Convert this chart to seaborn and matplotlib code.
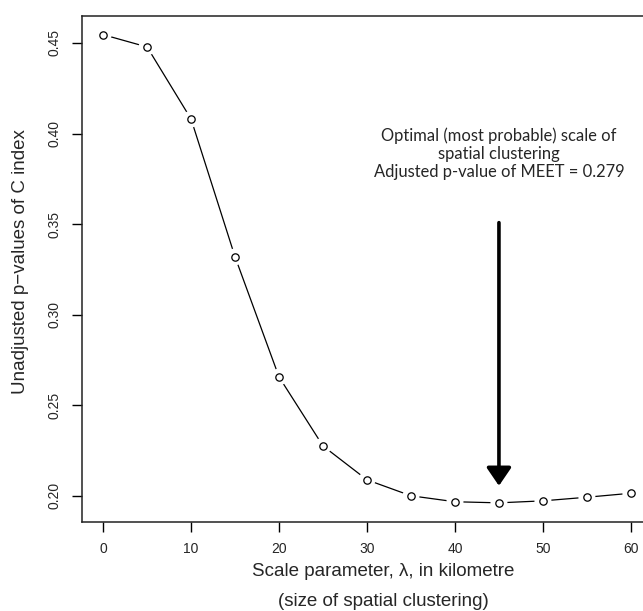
import matplotlib
matplotlib.use("Agg")
import matplotlib.pyplot as plt
import seaborn as sns
import pandas as pd

scale_km = [0, 5, 10, 15, 20, 25, 30, 35, 40, 45, 50, 55, 60]
p_values = [0.4546, 0.4478, 0.408, 0.3319, 0.2656, 0.2275, 0.2088, 0.2000,
            0.1967, 0.1961, 0.1972, 0.1992, 0.2014]
x_ticks = [0, 10, 20, 30, 40, 50, 60]
y_ticks = [0.20, 0.25, 0.30, 0.35, 0.40, 0.45]
optimal_scale = 45
annotation = "Optimal (most probable) scale of\nspatial clustering\nAdjusted p-value of MEET = 0.279"

df = pd.DataFrame({"scale": scale_km, "p": p_values})

sns.set_style("white")
plt.rcParams["font.family"] = ["Liberation Sans", "DejaVu Sans"]

fig = plt.figure(figsize=(6.43, 6.11), dpi=100)
ax = fig.add_axes([82 / 643, 1 - 521.5 / 611, 570 / 643, 505.5 / 611])

sns.lineplot(data=df, x="scale", y="p", color="black", linewidth=0.9, ax=ax, zorder=2)
ax.scatter(df["scale"], df["p"], s=150, color="white", edgecolors="none", zorder=3)
sns.scatterplot(data=df, x="scale", y="p", ax=ax, s=28, facecolor="white",
                edgecolor="black", linewidth=0.9, zorder=4)

ax.set_xlim(-2.4, 62.4)
ax.set_ylim(0.1858, 0.4649)
ax.set_xticks(x_ticks)
ax.set_xticklabels([str(v) for v in x_ticks], fontsize=10)
ax.set_yticks(y_ticks)
ax.set_yticklabels([f"{v:.2f}" for v in y_ticks], fontsize=10, rotation=90, va="center")
ax.tick_params(axis="both", direction="out", length=7, width=1, color="black",
               left=True, bottom=True)
ax.tick_params(axis="x", pad=8)
ax.tick_params(axis="y", pad=8)
for s in ax.spines.values():
    s.set_visible(True)
    s.set_color("#222222")
    s.set_linewidth(1.1)

ax.set_xlabel("")
ax.set_ylabel("")
fig.text(383 / 643, 1 - 572 / 611, "Scale parameter, λ, in kilometre",
         ha="center", va="center", fontsize=13.5)
fig.text(383 / 643, 1 - 602 / 611, "(size of spatial clustering)",
         ha="center", va="center", fontsize=13.5)
fig.text(21 / 643, 1 - 262 / 611, "Unadjusted p−values of C index",
         ha="center", va="center", rotation=90, fontsize=13.5)

ax.annotate("", xy=(optimal_scale, 0.2055), xytext=(optimal_scale, 0.3508),
            arrowprops=dict(arrowstyle="-|>,head_length=1.1,head_width=0.75",
                            color="black", lw=2.6, shrinkA=0, shrinkB=0),
            zorder=5)
ax.text(optimal_scale, 0.3887, annotation, ha="center", va="center",
        fontsize=11.9, family=["Lato", "DejaVu Sans"], linespacing=1.15)

fig.savefig("out.png", dpi=100)
